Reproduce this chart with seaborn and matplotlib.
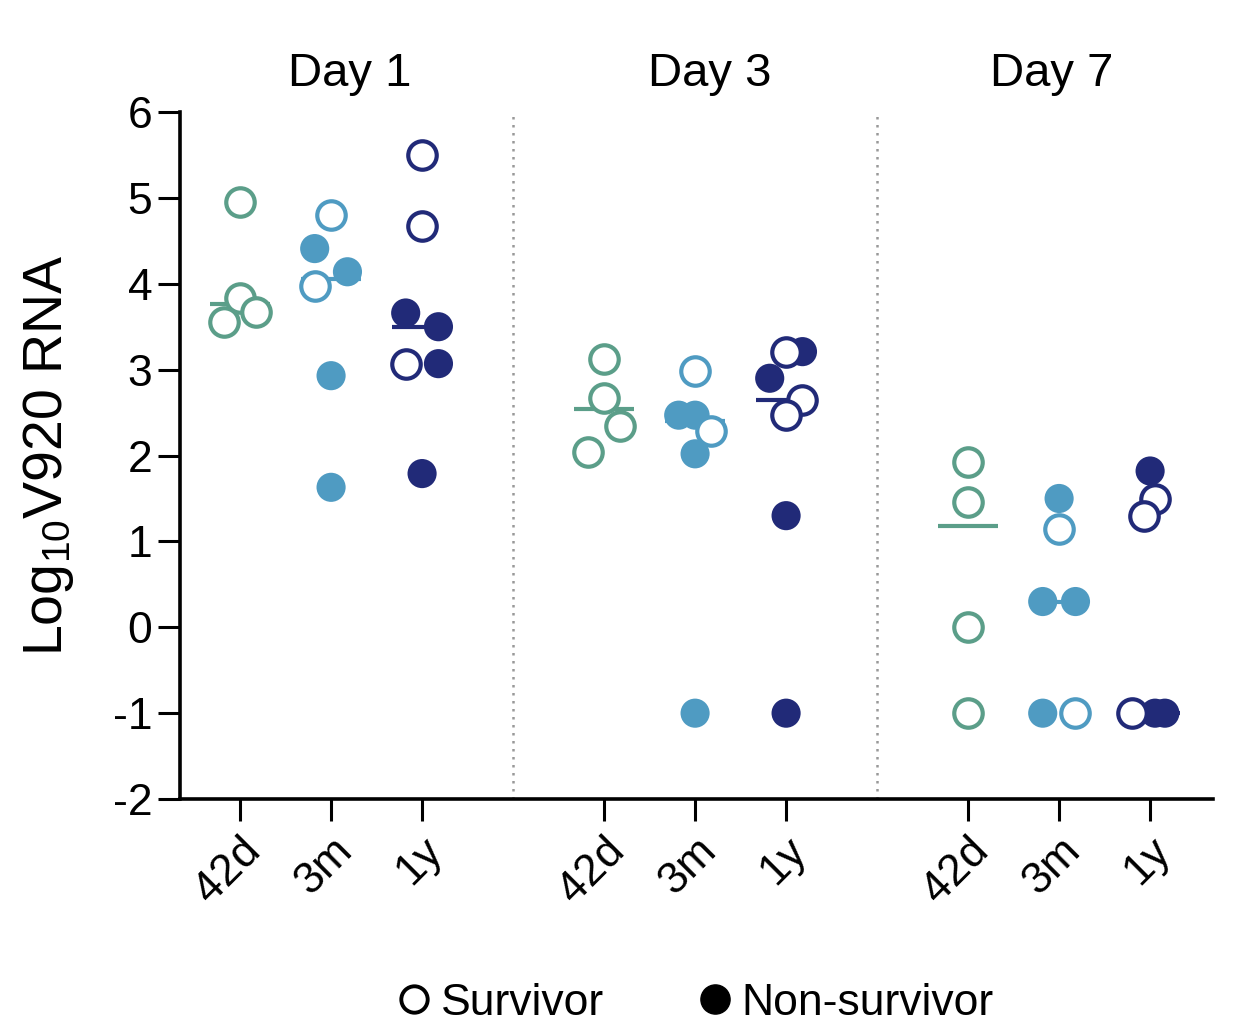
import numpy as np
import pandas as pd
import matplotlib
matplotlib.use('Agg')
import matplotlib.pyplot as plt
import matplotlib.transforms as mtransforms
from matplotlib.lines import Line2D
import seaborn as sns

sns.set_style('white')
plt.rcParams['font.family'] = ['Liberation Sans', 'DejaVu Sans']
plt.rcParams['mathtext.default'] = 'regular'
plt.rcParams['axes.unicode_minus'] = False
plt.rcParams['text.color'] = 'black'
plt.rcParams['axes.labelcolor'] = 'black'
plt.rcParams['xtick.color'] = 'black'
plt.rcParams['ytick.color'] = 'black'

# 数据
DAYS = ['Day 1', 'Day 3', 'Day 7']
TIMEPOINTS = ['42d', '3m', '1y']
COLORS = {'42d': '#5b9e89', '3m': '#4f9bc2', '1y': '#212a78'}

# 每组数值, 是否死亡(1=Non-survivor), 横向错开量(点宽的一半为单位)
d1_42d = [4.95, 3.84, 3.67, 3.55]
d1_42d_dead = [0, 0, 0, 0]
d1_42d_dx = [0, 0, 1, -1]

d1_3m = [4.80, 4.41, 3.97, 4.14, 2.93, 1.63]
d1_3m_dead = [0, 1, 0, 1, 1, 1]
d1_3m_dx = [0, -1, -1, 1, 0, 0]

d1_1y = [5.50, 4.67, 3.66, 3.50, 3.07, 3.07, 1.79]
d1_1y_dead = [0, 0, 1, 1, 0, 1, 1]
d1_1y_dx = [0, 0, -1, 1, -1, 1, 0]

d3_42d = [3.13, 2.67, 2.34, 2.04]
d3_42d_dead = [0, 0, 0, 0]
d3_42d_dx = [0, 0, 1, -1]

d3_3m = [2.98, 2.47, 2.47, 2.29, 2.02, -1.0]
d3_3m_dead = [0, 1, 1, 0, 1, 1]
d3_3m_dx = [0, -1, 0, 1, 0, 0]

d3_1y = [3.21, 3.21, 2.90, 2.65, 2.47, 1.30, -1.0]
d3_1y_dead = [0, 1, 1, 0, 0, 1, 1]
d3_1y_dx = [0, 1, -1, 1, 0, 0, 0]

d7_42d = [1.93, 1.46, 0.0, -1.0]
d7_42d_dead = [0, 0, 0, 0]
d7_42d_dx = [0, 0, 0, 0]

d7_3m = [1.50, 1.15, 0.30, 0.30, -1.0, -1.0]
d7_3m_dead = [1, 0, 1, 1, 1, 0]
d7_3m_dx = [0, 0, -1, 1, -1, 1]

d7_1y = [1.82, 1.49, 1.30, -1.0, -1.0, -1.0]
d7_1y_dead = [1, 0, 0, 0, 1, 1]
d7_1y_dx = [0, 0.3, -0.4, -1.1, 0.3, 0.9]

# 中位线
MEDIANS = {
    'Day 1': [3.76, 4.06, 3.50],
    'Day 3': [2.54, 2.40, 2.65],
    'Day 7': [1.18, 0.30, -1.0],
}

GROUPS = {
    ('Day 1', '42d'): (d1_42d, d1_42d_dead, d1_42d_dx),
    ('Day 1', '3m'): (d1_3m, d1_3m_dead, d1_3m_dx),
    ('Day 1', '1y'): (d1_1y, d1_1y_dead, d1_1y_dx),
    ('Day 3', '42d'): (d3_42d, d3_42d_dead, d3_42d_dx),
    ('Day 3', '3m'): (d3_3m, d3_3m_dead, d3_3m_dx),
    ('Day 3', '1y'): (d3_1y, d3_1y_dead, d3_1y_dx),
    ('Day 7', '42d'): (d7_42d, d7_42d_dead, d7_42d_dx),
    ('Day 7', '3m'): (d7_3m, d7_3m_dead, d7_3m_dx),
    ('Day 7', '1y'): (d7_1y, d7_1y_dead, d7_1y_dx),
}

STEP = 0.18   # 错开步长
GAP = 4       # 每个Day占4个位置
TITLE_SHIFT = [0.2, 0.16, -0.08]   # 标题相对中间类别的偏移


def build_frame():
    rows = []
    for (day, tp), (vals, dead, dx) in GROUPS.items():
        base = DAYS.index(day) * GAP + TIMEPOINTS.index(tp)
        for v, d, o in zip(vals, dead, dx):
            rows.append({'Day': day, 'Time': tp, 'pos': base + o * STEP,
                         'value': v, 'dead': d})
    return pd.DataFrame(rows)


df = build_frame()

fig = plt.figure(figsize=(12.44, 10.26), dpi=100)
ax = fig.add_axes([0.1447, 0.2212, 0.8303, 0.6696])

# 中位线
for di, day in enumerate(DAYS):
    for ti, tp in enumerate(TIMEPOINTS):
        c = di * GAP + ti
        ax.hlines(MEDIANS[day][ti], c - 0.33, c + 0.33, color=COLORS[tp],
                  lw=3.0, zorder=1)

# 实心点 (Non-survivor)
sns.scatterplot(data=df[df['dead'] == 1], x='pos', y='value', hue='Time',
                palette=COLORS, s=440, linewidth=0, legend=False,
                ax=ax, zorder=2, clip_on=False)

# 空心点 (Survivor)
for tp in TIMEPOINTS:
    sub = df[(df['dead'] == 0) & (df['Time'] == tp)]
    sns.scatterplot(data=sub, x='pos', y='value', color='white',
                    edgecolor=COLORS[tp], linewidth=3.0, s=420,
                    legend=False, ax=ax, zorder=3, clip_on=False)

# 分隔虚线
for sep in [GAP - 1, 2 * GAP - 1]:
    ax.plot([sep, sep], [-2, 6], ls=(0, (1, 2.2)), color='#999999', lw=1.8,
            zorder=0)

ax.set_xlim(-0.66, 10.69)
ax.set_ylim(-2, 6)
ax.set_yticks(range(-2, 7))
ticks = [di * GAP + ti for di in range(len(DAYS)) for ti in range(len(TIMEPOINTS))]
ax.set_xticks(ticks)
ax.set_xticklabels(TIMEPOINTS * len(DAYS), rotation=45, ha='right',
                   rotation_mode='anchor', fontsize=32)
offset = mtransforms.ScaledTranslation(0.14, 0.0, fig.dpi_scale_trans)
for lab in ax.get_xticklabels():
    lab.set_transform(lab.get_transform() + offset)
ax.tick_params(axis='y', left=True, labelsize=32, length=16, width=2.2,
               direction='out', pad=4)
ax.tick_params(axis='x', bottom=True, length=16, width=2.2, direction='out',
               pad=6)
ax.set_xlabel('')
ax.set_ylabel('Log$_{10}$V920 RNA', fontsize=40, labelpad=26)

sns.despine(ax=ax)
for side in ['left', 'bottom']:
    ax.spines[side].set_linewidth(2.6)
    ax.spines[side].set_color('black')

# Day 标题
trans = mtransforms.blended_transform_factory(ax.transData, ax.transAxes)
for di, day in enumerate(DAYS):
    ax.text(di * GAP + 1 + TITLE_SHIFT[di], 1.055, day, transform=trans,
            ha='center', va='center', fontsize=34)

# 图例
handles = [
    Line2D([], [], marker='o', ls='', markerfacecolor='white',
           markeredgecolor='black', markeredgewidth=2.8, markersize=19),
    Line2D([], [], marker='o', ls='', markerfacecolor='black',
           markeredgecolor='black', markersize=21),
]
fig.legend(handles, ['Survivor', 'Non-survivor'], loc='center',
           bbox_to_anchor=(0.557, 0.022), ncol=2, frameon=False,
           fontsize=32, handletextpad=0.1, columnspacing=2.0,
           handlelength=1.0)

fig.savefig('out.png', dpi=100, facecolor='white')
plt.close()
